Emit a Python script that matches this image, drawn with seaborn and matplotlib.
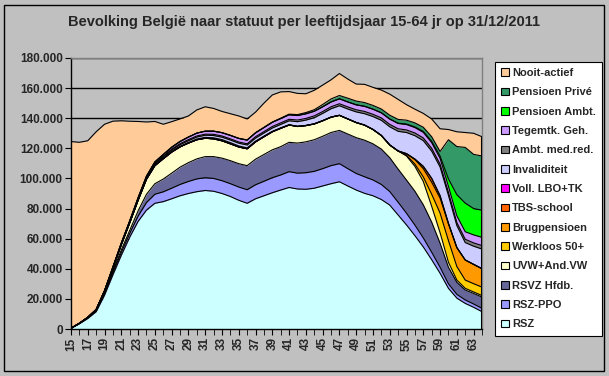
import numpy as np
import pandas as pd
import matplotlib
matplotlib.use("Agg")
import matplotlib.pyplot as plt
import matplotlib.ticker as mticker
from matplotlib.patches import Patch, Rectangle
import seaborn as sns

# leeftijden 15-64
ages = list(range(15, 65))

rsz = [500, 3500, 7000, 11500, 22500, 36000, 49000, 61000, 71500, 79000,
       83500, 84600, 86500, 88500, 90000, 91200, 92000, 91500, 90000, 88000,
       85500, 83500, 86500, 88500, 90500, 92300, 94000, 93000, 92800, 93500,
       95000, 96500, 97800, 95000, 92300, 90100, 88500, 86000, 82300, 75700,
       69100, 62000, 54500, 46000, 37000, 27000, 20500, 17000, 14400, 11500]
rsz_ppo = [0, 100, 200, 400, 800, 1500, 2000, 2500, 3500, 5000,
           6000, 6500, 7000, 7500, 8000, 8500, 8500, 8500, 8500, 8500,
           8800, 9000, 9300, 9600, 10000, 10000, 10500, 10500, 11000, 11200,
           11500, 12000, 12000, 11500, 11000, 11000, 10500, 10000, 9000, 8500,
           7800, 7000, 6000, 5000, 4000, 3000, 2500, 2300, 2200, 2200]
rsvz = [0, 100, 200, 300, 600, 1000, 1500, 2000, 3500, 5500,
        7000, 8500, 10000, 11500, 12500, 13300, 14000, 14500, 15000, 15300,
        15500, 16000, 17000, 17800, 18500, 18800, 19500, 20000, 20500, 21000,
        21500, 22000, 22100, 23000, 23800, 24300, 24000, 23500, 22500, 22000,
        22000, 22500, 22000, 20000, 16000, 11000, 8000, 6600, 7000, 7500]
uvw = [0, 100, 300, 600, 1200, 2000, 3500, 5000, 7000, 10000,
       12000, 13500, 14000, 13500, 13000, 12700, 12200, 11800, 11500, 11200,
       11100, 11200, 11500, 11800, 12000, 12200, 11500, 11000, 10800, 10500,
       10300, 10200, 10000, 10000, 10000, 10000, 9500, 9000, 8400, 12000,
       16000, 16500, 15500, 10500, 7000, 3300, 1500, 1100, 1000, 1000]
werkloos50 = [0] * 40 + [500, 1500, 3000, 8000, 13000, 14400, 9000, 5500, 5500, 5600]
brugpensioen = [0] * 40 + [1000, 3000, 5500, 8000, 10000, 11100, 12500, 13300, 12800, 12200]
tbs_school = [0] * 41 + [300, 1500, 2500, 1500, 300, 100, 0, 0, 0]
voll_lbo = [0, 0, 0, 0, 0, 50, 100, 100, 150, 200,
            250, 300, 300, 350, 400, 500, 600, 700, 800, 800,
            700, 600, 500, 400, 300, 300, 200, 200, 150, 150,
            100, 100, 100, 100, 100, 100, 100, 100, 100, 100,
            100, 100, 100, 100, 100, 100, 100, 100, 100, 100]
invaliditeit = [0, 0, 50, 100, 200, 300, 400, 500, 600, 700,
                800, 900, 1000, 1100, 1200, 1300, 1400, 1500, 1600, 1700,
                1800, 1900, 2000, 2100, 2200, 2300, 2600, 3000, 3500, 4000,
                4800, 5500, 6300, 6500, 7000, 7500, 8500, 10000, 12000, 13000,
                14000, 15500, 17000, 18000, 19000, 18500, 14500, 11500, 12000, 13000]
ambt_med = [0, 0, 0, 50, 100, 200, 300, 300, 400, 400,
            500, 500, 600, 600, 700, 700, 700, 800, 800, 800,
            800, 800, 900, 900, 1000, 1000, 1000, 1100, 1100, 1200,
            1200, 1300, 1300, 1400, 1400, 1500, 1500, 1600, 1600, 1700,
            1700, 1800, 1800, 1900, 1900, 2000, 2000, 2200, 2200, 2300]
tegemtk = [0, 0, 0, 50, 100, 200, 300, 400, 500, 700,
           900, 1100, 1300, 1500, 1700, 1900, 2000, 2100, 2200, 2300,
           2400, 2500, 2600, 2700, 2800, 2900, 3000, 3000, 3100, 3100,
           3200, 3200, 3300, 3300, 3300, 3400, 3400, 3400, 3500, 3500,
           3600, 3600, 3700, 3800, 3900, 4000, 4500, 5000, 5300, 5500]
pens_ambt = [0] * 38 + [100, 200, 300, 400, 600, 900, 1500, 5000, 14000, 19000, 17500, 18000]
pens_prive = [0] * 22 + [50, 100, 150, 200, 400, 600, 800, 1000, 1500, 2000, 2200, 2500,
                         2500, 2500, 2500, 2500, 2500, 2500, 2600, 2700, 2800, 3000, 3000,
                         26000, 32000, 37000, 36000, 36000]
nooit_actief = [124000, 120200, 117300, 118000, 110500, 96800, 81200, 66200, 50700, 36000,
                26900, 20100, 17000, 15000, 14000, 15400, 16200, 15100, 14100, 14400,
                14900, 14000, 13700, 16100, 18000, 17500, 15000, 14100, 12500, 12900,
                12900, 12700, 14600, 12700, 11300, 12100, 12000, 12600, 14000, 13300,
                10300, 9100, 9200, 11800, 15100, 6800, 9800, 9900, 14000, 12800]

series = ["RSZ", "RSZ-PPO", "RSVZ Hfdb.", "UVW+And.VW", "Werkloos 50+", "Brugpensioen",
          "TBS-school", "Voll. LBO+TK", "Invaliditeit", "Ambt. med.red.", "Tegemtk. Geh.",
          "Pensioen Ambt.", "Pensioen Privé", "Nooit-actief"]
colors = ["#CCFFFF", "#9999FF", "#666699", "#FFFFCC", "#FFCC00", "#FF9900",
          "#FF6600", "#FF00FF", "#CCCCFF", "#808080", "#CC99FF",
          "#00FF00", "#339966", "#FFCC99"]

df = pd.DataFrame({"leeftijd": ages})
for name, vals in zip(series, [rsz, rsz_ppo, rsvz, uvw, werkloos50, brugpensioen, tbs_school,
                               voll_lbo, invaliditeit, ambt_med, tegemtk, pens_ambt,
                               pens_prive, nooit_actief]):
    df[name] = vals
cum = df[series].cumsum(axis=1)

sns.set_style("white")
plt.rcParams["font.family"] = ["Liberation Sans", "DejaVu Sans"]
plt.rcParams["font.weight"] = "bold"

bg = "#C0C0C0"
fig = plt.figure(figsize=(6.09, 3.76), dpi=100, facecolor=bg)
fig.patches.append(Rectangle((4 / 609, 5 / 376), 600 / 609, 366 / 376, transform=fig.transFigure,
                             fill=False, edgecolor="black", linewidth=1))
ax = fig.add_axes([71 / 609, 47 / 376, 411 / 609, 271 / 376])
ax.set_facecolor(bg)

# rasterlijnen
ax.set_ylim(0, 180000)
ax.set_xlim(ages[0], ages[-1])
ax.yaxis.set_major_locator(mticker.MultipleLocator(20000))
ax.grid(axis="y", color="black", linewidth=1)
ax.set_axisbelow(True)

bottom = np.zeros(len(ages))
for name, col in zip(series, colors):
    top = cum[name].values
    ax.fill_between(df["leeftijd"], bottom, top, color=col, linewidth=0, zorder=2)
    sns.lineplot(x=df["leeftijd"], y=top, color="black", linewidth=0.8, ax=ax, zorder=3)
    bottom = top
ax.plot([ages[-1], ages[-1]], [0, cum[series[-1]].iloc[-1]], color="black", lw=1.5, zorder=3)

for s in ["top", "right"]:
    ax.spines[s].set_color("#808080")
    ax.spines[s].set_linewidth(1)
for s in ["left", "bottom"]:
    ax.spines[s].set_color("black")
    ax.spines[s].set_linewidth(1)

ax.yaxis.set_major_formatter(mticker.FuncFormatter(lambda v, p: f"{v:,.0f}".replace(",", ".")))
ax.set_xticks(ages[::2])
ax.set_xticks(ages, minor=True)
ax.tick_params(axis="x", which="both", direction="out", length=4, color="black", bottom=True,
               labelrotation=90, labelsize=8.5, pad=2)
ax.tick_params(axis="y", direction="out", length=4, color="black", left=True, labelsize=8.5, pad=2)
for lab in ax.get_xticklabels() + ax.get_yticklabels():
    lab.set_fontweight("bold")
ax.set_xlabel("")
ax.set_ylabel("")

fig.text(0.5, 1 - 22 / 376, "Bevolking België naar statuut per leeftijdsjaar 15-64 jr op 31/12/2011",
         ha="center", va="center", fontsize=10.5, fontweight="bold")

handles = [Patch(facecolor=c, edgecolor="black", linewidth=0.8, label=n)
           for n, c in zip(series, colors)][::-1]
leg = fig.legend(handles=handles, loc="upper left", bbox_to_anchor=(495 / 609, 1 - 62 / 376),
                 fontsize=8, frameon=True, fancybox=False, framealpha=1, edgecolor="black",
                 handlelength=0.7, handleheight=0.7, handletextpad=0.3, labelspacing=0.84,
                 borderpad=0.55, borderaxespad=0)
leg.get_frame().set_linewidth(0.8)
for t in leg.get_texts():
    t.set_fontweight("bold")

fig.savefig("out.png", dpi=100, facecolor=bg)
